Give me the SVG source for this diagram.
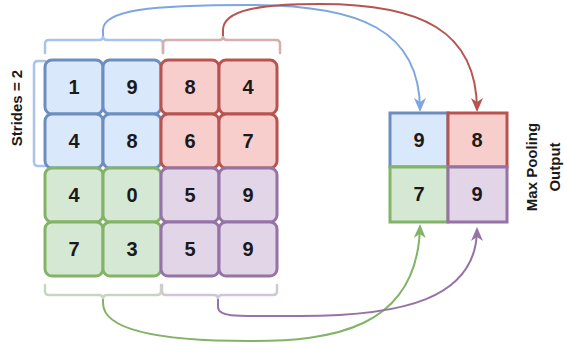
<svg xmlns="http://www.w3.org/2000/svg" width="567" height="345" viewBox="0 0 567 345">
<style>
text{font-family:"Liberation Sans",Arial,sans-serif;font-weight:bold;fill:#1a1a1a}
.num{font-size:20px;text-anchor:middle}
.lbl{font-size:15px;text-anchor:middle}
.cell{stroke-width:3}
.b{fill:#dae8fc;stroke:#6c8ebf}
.r{fill:#f8cecc;stroke:#b85450}
.g{fill:#d5e8d4;stroke:#82b366}
.p{fill:#e1d5e7;stroke:#9673a6}
.brace{fill:none;stroke-width:2.5;stroke-linecap:round}
.conn{fill:none;stroke-width:2}
</style>
<defs>
<marker id="ab" viewBox="0 0 14 12" markerWidth="14" markerHeight="12" refX="12" refY="6" orient="auto" markerUnits="userSpaceOnUse"><path d="M0,0 L14,6 L0,12 L4,6 Z" fill="#7ea6e0"/></marker>
<marker id="ar" viewBox="0 0 14 12" markerWidth="14" markerHeight="12" refX="12" refY="6" orient="auto" markerUnits="userSpaceOnUse"><path d="M0,0 L14,6 L0,12 L4,6 Z" fill="#b85450"/></marker>
<marker id="ag" viewBox="0 0 14 12" markerWidth="14" markerHeight="12" refX="12" refY="6" orient="auto" markerUnits="userSpaceOnUse"><path d="M0,0 L14,6 L0,12 L4,6 Z" fill="#82b366"/></marker>
<marker id="ap" viewBox="0 0 14 12" markerWidth="14" markerHeight="12" refX="12" refY="6" orient="auto" markerUnits="userSpaceOnUse"><path d="M0,0 L14,6 L0,12 L4,6 Z" fill="#9673a6"/></marker>
</defs>

<g id="braces">
<path class="brace" stroke="#a9c4eb" d="M45,53 V44 Q45,40 49,40 H99 Q103,40 103,36 Q103,40 107,40 H159 Q163,40 163,44 V53"/>
<path class="brace" stroke="#d6aeac" d="M163,53 V44 Q163,40 167,40 H219 Q223,40 223,36 Q223,40 227,40 H276 Q280,40 280,44 V53"/>
<path class="brace" stroke="#c9d5c2" d="M45,285 V291 Q45,295 49,295 H99 Q103,295 103,299 Q103,295 107,295 H157 Q161,295 161,291 V285"/>
<path class="brace" stroke="#cfc7d5" d="M162,285 V291 Q162,295 166,295 H214 Q218,295 218,299 Q218,295 222,295 H273 Q277,295 277,291 V285"/>
<path class="brace" stroke="#a9c4eb" d="M45,61 H38 Q34,61 34,65 V162 Q34,166 38,166 H45"/>
</g>

<g id="connectors">
<path class="conn" stroke="#7ea6e0" marker-end="url(#ab)" d="M103,36 V30 C103,10 150,5 250,5 C360,5 420,30 420,110"/>
<path class="conn" stroke="#b85450" marker-end="url(#ar)" d="M223,36 V30 C223,10 260,4 320,4 C420,4 477,30 477,110"/>
<path class="conn" stroke="#82b366" marker-end="url(#ag)" d="M103,299 V303 C103,330 160,341 250,341 C330,341 418,330 420,226"/>
<path class="conn" stroke="#9673a6" marker-end="url(#ap)" d="M218,299 V307 C218,318 240,316 300,316 C400,316 477,300 477,229"/>
</g>

<g id="input-blue">
<rect class="cell b" x="45" y="60" width="58" height="54" rx="7"/>
<rect class="cell b" x="103" y="60" width="58" height="54" rx="7"/>
<rect class="cell b" x="45" y="114" width="58" height="54" rx="7"/>
<rect class="cell b" x="103" y="114" width="58" height="54" rx="7"/>
<text class="num" x="74" y="94">1</text>
<text class="num" x="132" y="94">9</text>
<text class="num" x="74" y="148">4</text>
<text class="num" x="132" y="148">8</text>
</g>
<g id="input-red">
<rect class="cell r" x="161" y="60" width="58" height="54" rx="7"/>
<rect class="cell r" x="219" y="60" width="58" height="54" rx="7"/>
<rect class="cell r" x="161" y="114" width="58" height="54" rx="7"/>
<rect class="cell r" x="219" y="114" width="58" height="54" rx="7"/>
<text class="num" x="190" y="94">8</text>
<text class="num" x="248" y="94">4</text>
<text class="num" x="190" y="148">6</text>
<text class="num" x="248" y="148">7</text>
</g>
<g id="input-green">
<rect class="cell g" x="45" y="168" width="58" height="54" rx="7"/>
<rect class="cell g" x="103" y="168" width="58" height="54" rx="7"/>
<rect class="cell g" x="45" y="222" width="58" height="54" rx="7"/>
<rect class="cell g" x="103" y="222" width="58" height="54" rx="7"/>
<text class="num" x="74" y="202">4</text>
<text class="num" x="132" y="202">0</text>
<text class="num" x="74" y="256">7</text>
<text class="num" x="132" y="256">3</text>
</g>
<g id="input-purple">
<rect class="cell p" x="161" y="168" width="58" height="54" rx="7"/>
<rect class="cell p" x="219" y="168" width="58" height="54" rx="7"/>
<rect class="cell p" x="161" y="222" width="58" height="54" rx="7"/>
<rect class="cell p" x="219" y="222" width="58" height="54" rx="7"/>
<text class="num" x="190" y="202">5</text>
<text class="num" x="248" y="202">9</text>
<text class="num" x="190" y="256">5</text>
<text class="num" x="248" y="256">9</text>
</g>

<g id="strides-label">
<text class="lbl" transform="translate(22,108) rotate(-90)">Strides = 2</text>
</g>

<g id="output-blue">
<rect class="cell b" x="390" y="113" width="58" height="54"/>
<text class="num" x="419" y="147">9</text>
</g>
<g id="output-red">
<rect class="cell r" x="448" y="113" width="59" height="54"/>
<text class="num" x="477" y="147">8</text>
</g>
<g id="output-green">
<rect class="cell g" x="390" y="167" width="58" height="55"/>
<text class="num" x="419" y="201">7</text>
</g>
<g id="output-purple">
<rect class="cell p" x="448" y="167" width="59" height="55"/>
<text class="num" x="477" y="201">9</text>
</g>

<g id="output-label">
<text class="lbl" transform="translate(537,167) rotate(-90)">Max Pooling</text>
<text class="lbl" transform="translate(560,167) rotate(-90)">Output</text>
</g>
</svg>
